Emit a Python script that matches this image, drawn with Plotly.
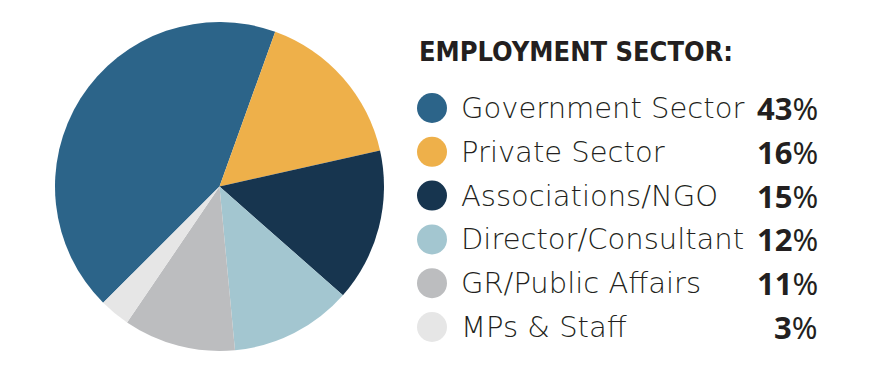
import plotly.graph_objects as go

categories = ["Government Sector", "Private Sector", "Associations/NGO",
              "Director/Consultant", "GR/Public Affairs", "MPs & Staff"]
values = [43, 16, 15, 12, 11, 3]
colors = ["#2c6489", "#eeb04a", "#17354f", "#a3c6d0", "#bcbdbf", "#e6e6e6"]
title_text = "EMPLOYMENT SECTOR:"

W, H = 888, 370
OFF = 8  # page body margin offset
fig = go.Figure()

fig.add_trace(go.Pie(
    labels=categories, values=values, sort=False, direction="clockwise",
    rotation=225, marker=dict(colors=colors, line=dict(width=0)),
    textinfo="none", hoverinfo="label+percent", showlegend=False,
    domain=dict(x=[(55 - OFF) / W, (384 - OFF) / W],
                y=[1 - (352 - OFF) / H, 1 - (21 - OFF) / H]),
))

# legend rows
row_y = [108 - OFF + i * 43.8 for i in range(len(categories))]
fig.add_trace(go.Scatter(
    x=[432 - OFF] * len(categories), y=row_y, mode="markers",
    marker=dict(size=30, color=colors, line=dict(width=0)),
    hoverinfo="skip", showlegend=False, xaxis="x", yaxis="y",
))

annotations = []
for cat, val, y in zip(categories, values, row_y):
    annotations.append(dict(
        x=459 - OFF, y=y, xref="x", yref="y", xanchor="left", yanchor="middle",
        text=cat, showarrow=False,
        font=dict(family="DejaVu Sans", size=29, color="#231f20", weight=200),
    ))
    annotations.append(dict(
        x=820 - OFF, y=y, xref="x", yref="y", xanchor="right", yanchor="middle",
        text=f"<b>{val}</b>%", showarrow=False,
        font=dict(family="Noto Sans", size=31, color="#231f20"),
    ))
annotations.append(dict(
    x=417 - OFF, y=51 - OFF, xref="x", yref="y", xanchor="left", yanchor="middle",
    text=f"<b>{title_text}</b>", showarrow=False,
    font=dict(family="DejaVu Sans Condensed", size=27, color="#231f20"),
))

fig.update_layout(
    width=W, height=H, margin=dict(l=0, r=0, t=0, b=0),
    paper_bgcolor="white", plot_bgcolor="rgba(0,0,0,0)",
    xaxis=dict(range=[0, W], visible=False, fixedrange=True),
    yaxis=dict(range=[H, 0], visible=False, fixedrange=True),
    annotations=annotations,
)

fig.write_html("out.html")
